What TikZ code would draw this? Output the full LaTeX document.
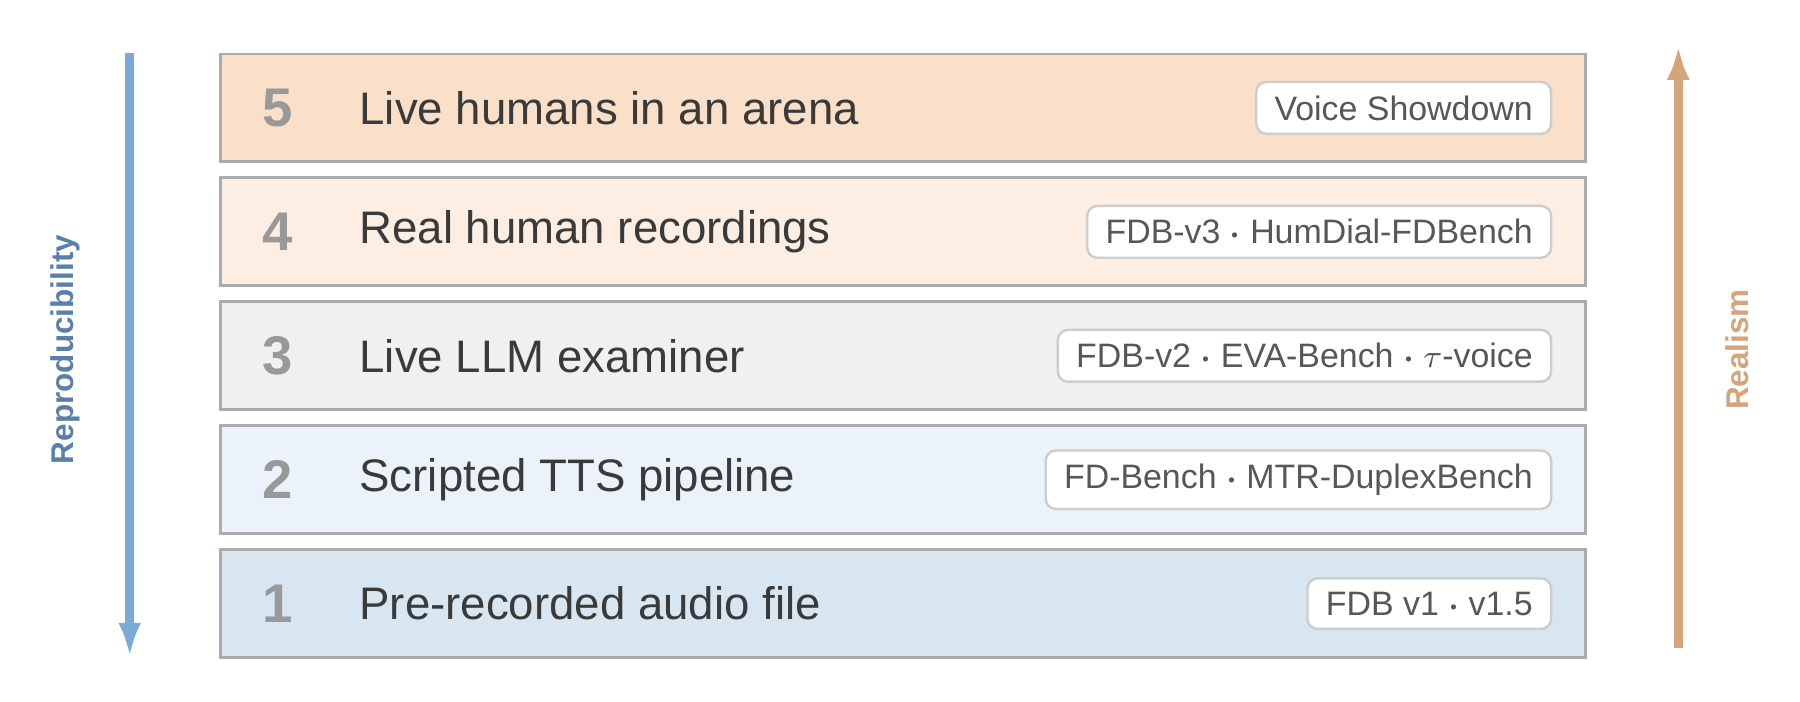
\documentclass[tikz,border=0pt]{standalone}
\usepackage{amsmath}
\usepackage{fontspec}
\setmainfont{Liberation Sans}
\usetikzlibrary{positioning,arrows.meta}

\definecolor{rowfive}{HTML}{FAE0C8}
\definecolor{rowfour}{HTML}{FCEEE3}
\definecolor{rowthree}{HTML}{F0F0F0}
\definecolor{rowtwo}{HTML}{EBF2F9}
\definecolor{rowone}{HTML}{D8E6F2}
\definecolor{bandline}{HTML}{ABABAB}
\definecolor{textdark}{HTML}{3A3A3A}
\definecolor{numgray}{HTML}{999999}
\definecolor{reproblue}{HTML}{7BAAD8}
\definecolor{reprolabel}{HTML}{5A7FA8}
\definecolor{realtan}{HTML}{D4A57A}

\tikzset{
  band/.style={draw=bandline,line width=0.7pt,minimum width=11.89cm,minimum height=0.94cm,inner sep=0pt},
  levelnum/.style={font=\bfseries\fontsize{13.5}{15}\selectfont,text=numgray},
  leveltext/.style={font=\fontsize{11.3}{13}\selectfont,text=textdark,anchor=west},
  tag/.style={draw=bandline!60,fill=white,rounded corners=2.5pt,line width=0.6pt,
    font=\fontsize{8.4}{10}\selectfont,text=textdark!85,anchor=east,minimum height=0.42cm,inner xsep=0.16cm},
  axislabel/.style={font=\bfseries\fontsize{7.8}{9}\selectfont,rotate=90}
}

\begin{document}
\begin{tikzpicture}
  \useasboundingbox (0,0) rectangle (15.68,6.115);
  \node[band,fill=rowfive] (b5) at (7.865,5.175) {};
  \node[band,fill=rowfour,below=0.115cm of b5] (b4) {};
  \node[band,fill=rowthree,below=0.115cm of b4] (b3) {};
  \node[band,fill=rowtwo,below=0.115cm of b3] (b2) {};
  \node[band,fill=rowone,below=0.115cm of b2] (b1) {};

  \foreach \i/\txt/\lab in {
      5/Live humans in an arena/Voice Showdown,
      4/Real human recordings/FDB-v3 $\boldsymbol{\cdot}$ HumDial-FDBench,
      3/Live LLM examiner/FDB-v2 $\boldsymbol{\cdot}$ EVA-Bench $\boldsymbol{\cdot}$ $\tau$-voice,
      2/Scripted TTS pipeline/FD-Bench $\boldsymbol{\cdot}$ MTR-DuplexBench,
      1/Pre-recorded audio file/FDB v1 $\boldsymbol{\cdot}$ v1.5} {
    \node[levelnum] (n\i) at ([xshift=0.51cm]b\i.west) {\i};
    \node[leveltext] (t\i) at ([xshift=1.10cm]b\i.west) {\txt};
    \node[tag] (g\i) at ([xshift=-0.3cm]b\i.east) {\lab};
  }

  % axes
  \coordinate (rtop) at (1.13,5.65);
  \coordinate (rbot) at (1.13,0.39);
  \draw[reproblue,line width=2.2pt,-{Latex[length=0.3cm,width=0.2cm]}] (rtop) -- (rbot);
  \node[axislabel,text=reprolabel] (repro) at (0.57,3.07) {Reproducibility};

  \coordinate (lbot) at (14.62,0.47);
  \coordinate (ltop) at (14.62,5.72);
  \draw[realtan,line width=2.2pt,-{Latex[length=0.3cm,width=0.2cm]}] (lbot) -- (ltop);
  \node[axislabel,text=realtan] (real) at (15.13,3.07) {Realism};
\end{tikzpicture}
\end{document}
